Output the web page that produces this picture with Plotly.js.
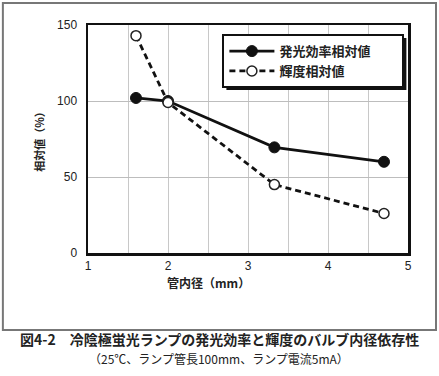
<!DOCTYPE html>
<html>
<head>
<meta charset="utf-8">
<script src="https://cdn.plot.ly/plotly-3.0.1.min.js"></script>
<style>html,body{margin:0;padding:0;background:#fff;}#chart{width:439px;height:376px;}</style>
</head>
<body>
<div id="chart"></div>
<script>
// Data
const diameters = [1.6, 2.0, 3.33, 4.7];            // 管内径 (mm)
const efficiency = [102, 100, 69.5, 60];            // 発光効率相対値 (%)
const luminance = [143, 99, 45, 26];               // 輝度相対値 (%)
const seriesNames = ['発光効率相対値', '輝度相対値'];
const xTicks = [1, 2, 3, 4, 5];
const yTicks = [0, 50, 100, 150];
const xTitle = '管内径（mm）';
const yTitle = '相対値（%）';
const caption = '図4-2　冷陰極蛍光ランプの発光効率と輝度のバルブ内径依存性';
const subCaption = '（25℃、ランプ管長100mm、ランプ電流5mA）';

const jp = '"Noto Sans CJK JP", "Liberation Sans", sans-serif';
const num = '"Liberation Sans", Arial, sans-serif';
const legendPad = '\u3000\u3000'; // blank padding so the legend box is as wide as in the reference

const traces = [
  {
    x: diameters, y: efficiency, name: seriesNames[0] + legendPad, type: 'scatter', mode: 'lines+markers',
    line: {color: '#111', width: 2.8},
    marker: {symbol: 'circle', size: 11, color: '#111', line: {color: '#111', width: 1}}
  },
  {
    x: diameters, y: luminance, name: seriesNames[1], type: 'scatter', mode: 'lines+markers',
    line: {color: '#111', width: 2.8, dash: '6px,4px'},
    marker: {symbol: 'circle', size: 10, color: '#fff', line: {color: '#222', width: 1.5}}
  }
];

const layout = {
  width: 439, height: 376,
  margin: {l: 88, r: 31, t: 25, b: 123},
  paper_bgcolor: '#fff', plot_bgcolor: '#fff',
  showlegend: true,
  legend: {
    x: 0.42, y: 0.96, xanchor: 'left', yanchor: 'top',
    bgcolor: '#fff', bordercolor: '#111', borderwidth: 2,
    font: {family: jp, size: 13, color: '#222', weight: 'bold'},
    tracegroupgap: 2, itemwidth: 45
  },
  xaxis: {
    range: [1, 5], tickvals: xTicks, ticktext: xTicks.map(String),
    showgrid: true, gridcolor: '#c8c8c8', gridwidth: 1,
    minor: {dtick: 0.5, showgrid: true, gridcolor: '#c8c8c8', gridwidth: 1},
    showline: true, linecolor: '#111', linewidth: 2.5, mirror: true,
    ticks: '', zeroline: false,
    tickfont: {family: num, size: 12, color: '#222'},
    fixedrange: true
  },
  yaxis: {
    range: [0, 150], tickvals: yTicks, ticktext: yTicks.map(String),
    showgrid: true, gridcolor: '#bdbdbd', gridwidth: 1,
    showline: true, linecolor: '#111', linewidth: 2.5, mirror: true,
    ticks: '', zeroline: false, ticklabelstandoff: 6,
    tickfont: {family: num, size: 12, color: '#222'},
    title: {text: yTitle, font: {family: jp, size: 11, color: '#222', weight: 'bold'}, standoff: 10},
    fixedrange: true
  },
  shapes: [
    // outer frame of the figure
    {type: 'rect', xref: 'paper', yref: 'paper', x0: -0.266, x1: 1.0875, y0: -0.338, y1: 1.096,
     line: {color: '#777', width: 2}, layer: 'below'}
  ],
  annotations: [
    {text: xTitle, xref: 'paper', yref: 'paper', x: 0.378, y: -0.13, xanchor: 'center', yanchor: 'middle',
     showarrow: false, font: {family: jp, size: 12, color: '#222', weight: 'bold'}},
    {text: caption, xref: 'paper', yref: 'paper', x: 0.41, y: -0.377, xanchor: 'center', yanchor: 'middle',
     showarrow: false, font: {family: jp, size: 14, color: '#222', weight: 'bold'}},
    {text: subCaption, xref: 'paper', yref: 'paper', x: 0.41, y: -0.462, xanchor: 'center', yanchor: 'middle',
     showarrow: false, font: {family: jp, size: 12, color: '#222'}}
  ]
};

Plotly.newPlot('chart', traces, layout, {staticPlot: true, displayModeBar: false}).then(function (gd) {
  // add a drop shadow behind the legend box, sized from the rendered legend
  const bg = gd.querySelector('.legend .bg');
  if (!bg) return;
  const r = bg.getBoundingClientRect();
  const c = gd.getBoundingClientRect();
  const fs = gd._fullLayout._size;
  const toPX = px => (px - c.left - fs.l) / fs.w;
  const toPY = py => 1 - (py - c.top - fs.t) / fs.h;
  const off = 3;
  const shapes = gd.layout.shapes.concat([{
    type: 'rect', xref: 'paper', yref: 'paper',
    x0: toPX(r.left + off), x1: toPX(r.right + off),
    y0: toPY(r.bottom + off), y1: toPY(r.top + off),
    fillcolor: '#111', line: {width: 0}, layer: 'above'
  }]);
  return Plotly.relayout(gd, {shapes: shapes});
});
</script>
</body>
</html>
